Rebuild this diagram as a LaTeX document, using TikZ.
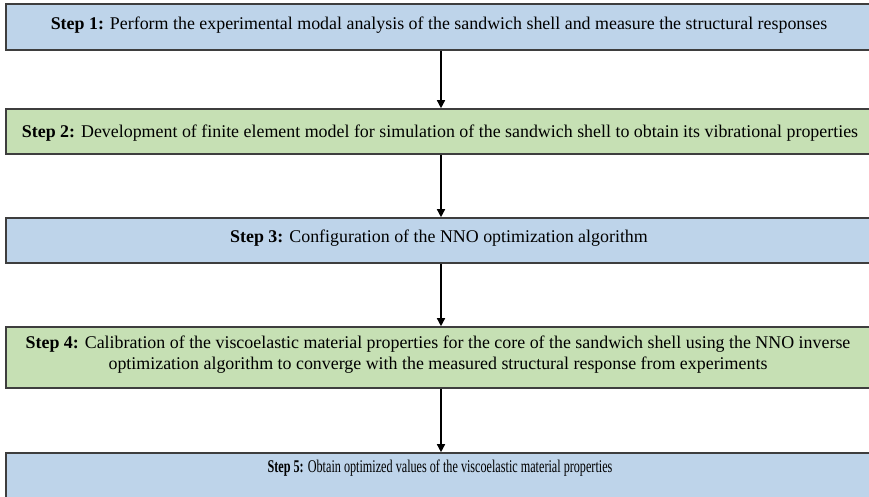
\documentclass[tikz,border=0pt]{standalone}
\usepackage{fontspec}
\setmainfont{Liberation Serif}
\usetikzlibrary{arrows.meta}
\definecolor{stepblue}{RGB}{190,212,234}
\definecolor{stepgreen}{RGB}{198,224,180}
\definecolor{boxedge}{RGB}{62,62,62}
\tikzset{
  stepbox/.style={draw=boxedge, line width=1.6pt, rectangle, minimum width=870pt, inner sep=0pt},
  steptext/.style={anchor=base, inner sep=0pt, align=center, font=\fontsize{17.9}{21}\selectfont},
  flow/.style={line width=1.4pt, -{Triangle[length=8pt,width=8pt]}}
}
\begin{document}
\begin{tikzpicture}[x=1pt,y=-1pt]
  \useasboundingbox (0,0) rectangle (869,496);
  \clip (0,0) rectangle (869,496);
  % process boxes
  \node[stepbox, fill=stepblue,  minimum height=46pt] (s1) at (441,27)    {};
  \node[stepbox, fill=stepgreen, minimum height=45pt] (s2) at (441,131.5) {};
  \node[stepbox, fill=stepblue,  minimum height=45pt] (s3) at (441,240.5) {};
  \node[stepbox, fill=stepgreen, minimum height=61pt] (s4) at (441,357.5) {};
  \node[stepbox, fill=stepblue,  minimum height=46pt] (s5) at (441,476)   {};
  % step descriptions
  \node[steptext] (t1) at (439,29)  {\textbf{Step 1:} Perform the experimental modal analysis of the sandwich shell and measure the structural responses};
  \node[steptext] (t2) at (440,137) {\textbf{Step 2:} Development of finite element model for simulation of the sandwich shell to obtain its vibrational properties};
  \node[steptext] (t3) at (439,242) {\textbf{Step 3:} Configuration of the NNO optimization algorithm};
  \node[steptext, anchor=north] (t4) at (438,336) {\textbf{Step 4:} Calibration of the viscoelastic material properties for the core of the sandwich shell using the NNO inverse\\optimization algorithm to converge with the measured structural response from experiments};
  \node[steptext] (t5) at (440,472) {\scalebox{0.68}[1]{\textbf{Step 5:} Obtain optimized values of the viscoelastic material properties}};
  % flow arrows
  \draw[flow] (s1) -- (s2);
  \draw[flow] (s2) -- (s3);
  \draw[flow] (s3) -- (s4);
  \draw[flow] (s4) -- (s5);
\end{tikzpicture}
\end{document}
